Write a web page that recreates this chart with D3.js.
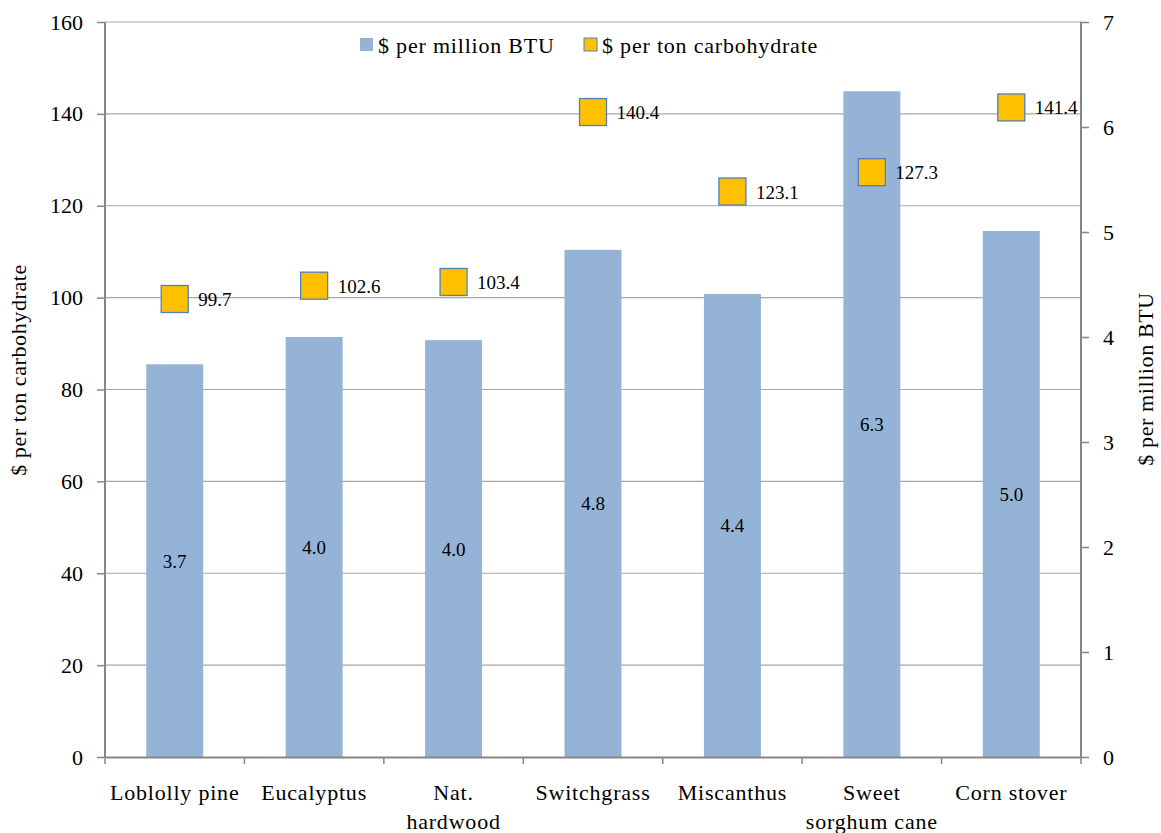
<!DOCTYPE html>
<html>
<head>
<meta charset="utf-8">
<script src="https://cdn.jsdelivr.net/npm/d3@7"></script>
<style>
  body { margin: 0; background: #fff; }
  svg text { font-family: "Liberation Serif", "Times New Roman", serif; fill: #000; }
</style>
</head>
<body>
<div id="main"></div>
<script>
var categories = [['Loblolly pine'], ['Eucalyptus'], ['Nat.', 'hardwood'], ['Switchgrass'], ['Miscanthus'], ['Sweet', 'sorghum cane'], ['Corn stover']];
var btu_values = [3.74, 4.0, 3.97, 4.83, 4.41, 6.34, 5.01];
var btu_labels = ['3.7', '4.0', '4.0', '4.8', '4.4', '6.3', '5.0'];
var carb_values = [99.7, 102.6, 103.4, 140.4, 123.1, 127.3, 141.4];
var left_ticks = [0, 20, 40, 60, 80, 100, 120, 140, 160];
var right_ticks = [0, 1, 2, 3, 4, 5, 6, 7];

var width = 1161, height = 833;
var plot_left = 105, plot_right = 1081, plot_top = 22, plot_bottom = 757;
var serif = '"Liberation Serif", "Times New Roman", serif';

var svg = d3.select('#main').append('svg')
  .attr('width', width).attr('height', height)
  .attr('font-family', serif);

var x = d3.scaleBand().domain(d3.range(categories.length)).range([plot_left, plot_right]).paddingInner(0).paddingOuter(0);
var yL = d3.scaleLinear().domain([0, 160]).range([plot_bottom, plot_top]);
var yR = d3.scaleLinear().domain([0, 7]).range([plot_bottom, plot_top]);

// gridlines
svg.append('g').selectAll('line')
  .data(left_ticks.slice(1))
  .enter().append('line')
  .attr('x1', plot_left).attr('x2', plot_right)
  .attr('y1', function (d) { return yL(d); })
  .attr('y2', function (d) { return yL(d); })
  .attr('stroke', '#a6a6a6').attr('stroke-width', 1.2);

// bars
var bw = 57;
svg.append('g').selectAll('rect')
  .data(btu_values)
  .enter().append('rect')
  .attr('x', function (d, i) { return x(i) + x.bandwidth() / 2 - bw / 2; })
  .attr('y', function (d) { return yR(d); })
  .attr('width', bw)
  .attr('height', function (d) { return plot_bottom - yR(d); })
  .attr('fill', '#95b3d7');

svg.append('g').selectAll('text')
  .data(btu_values)
  .enter().append('text')
  .attr('x', function (d, i) { return x(i) + x.bandwidth() / 2; })
  .attr('y', function (d) { return (yR(d) + plot_bottom) / 2 + 7; })
  .attr('text-anchor', 'middle')
  .style('font-size', '19px')
  .text(function (d, i) { return btu_labels[i]; });

// axes
var axL = d3.axisLeft(yL).tickValues(left_ticks).tickSize(8).tickPadding(14);
var gL = svg.append('g').attr('transform', 'translate(' + plot_left + ',0)').call(axL);
var axR = d3.axisRight(yR).tickValues(right_ticks).tickFormat(d3.format('d')).tickSize(8).tickPadding(14);
var gR = svg.append('g').attr('transform', 'translate(' + plot_right + ',0)').call(axR);
var axB = d3.axisBottom(x).tickSize(0).tickFormat('');
var gB = svg.append('g').attr('transform', 'translate(0,' + plot_bottom + ')').call(axB);

[gL, gR, gB].forEach(function (g) {
  g.attr('font-family', serif);
  g.select('.domain').attr('stroke', '#868686').attr('stroke-width', 2);
  g.selectAll('.tick line').attr('stroke', '#868686').attr('stroke-width', 1.5);
  g.selectAll('.tick text')
    .style('font-size', '22px')
    .style('font-family', serif)
    .attr('fill', '#000');
});
gL.select('.domain').attr('d', 'M0,' + plot_top + 'V' + plot_bottom);
gR.select('.domain').attr('d', 'M0,' + plot_top + 'V' + plot_bottom);

// category boundary ticks
svg.append('g').selectAll('line')
  .data(d3.range(categories.length + 1))
  .enter().append('line')
  .attr('x1', function (d) { return plot_left + d * x.bandwidth(); })
  .attr('x2', function (d) { return plot_left + d * x.bandwidth(); })
  .attr('y1', plot_bottom).attr('y2', plot_bottom + 7)
  .attr('stroke', '#868686').attr('stroke-width', 1.5);

// category labels
var cl = svg.append('g').selectAll('text')
  .data(categories)
  .enter().append('text')
  .attr('text-anchor', 'middle')
  .style('font-size', '22px')
  .style('letter-spacing', '0.8px')
  .attr('transform', function (d, i) { return 'translate(' + (x(i) + x.bandwidth() / 2) + ',800)'; });
cl.selectAll('tspan')
  .data(function (d) { return d; })
  .enter().append('tspan')
  .attr('x', 0)
  .attr('dy', function (d, j) { return j === 0 ? 0 : 29; })
  .text(function (d) { return d; });

// squares
var sq = 27;
svg.append('g').selectAll('rect')
  .data(carb_values)
  .enter().append('rect')
  .attr('x', function (d, i) { return x(i) + x.bandwidth() / 2 - sq / 2; })
  .attr('y', function (d) { return yL(d) - sq / 2; })
  .attr('width', sq).attr('height', sq)
  .attr('fill', '#ffc000')
  .attr('stroke', '#4f81bd').attr('stroke-width', 1.3);

svg.append('g').selectAll('text')
  .data(carb_values)
  .enter().append('text')
  .attr('x', function (d, i) { return x(i) + x.bandwidth() / 2 + sq / 2 + 10; })
  .attr('y', function (d) { return yL(d) + 7; })
  .style('font-size', '19px')
  .text(function (d) { return d.toFixed(1); });

// axis titles
svg.append('text')
  .attr('transform', 'translate(26,370) rotate(-90)')
  .attr('text-anchor', 'middle')
  .style('font-size', '22px')
  .style('letter-spacing', '0.6px')
  .text('$ per ton carbohydrate');
svg.append('text')
  .attr('transform', 'translate(1153,379) rotate(-90)')
  .attr('text-anchor', 'middle')
  .style('font-size', '22px')
  .style('letter-spacing', '0.6px')
  .text('$ per million BTU');

// legend
var legend = [
  { name: '$ per million BTU', fill: '#95b3d7', stroke: 'none', x: 360 },
  { name: '$ per ton carbohydrate', fill: '#ffc000', stroke: '#4f81bd', x: 584 }
];
var lg = svg.append('g').selectAll('g')
  .data(legend)
  .enter().append('g')
  .attr('transform', function (d) { return 'translate(' + d.x + ',38)'; });
lg.append('rect')
  .attr('width', 13).attr('height', 13)
  .attr('fill', function (d) { return d.fill; })
  .attr('stroke', function (d) { return d.stroke; });
lg.append('text')
  .attr('x', 18).attr('y', 15)
  .style('font-size', '22px')
  .style('letter-spacing', '0.8px')
  .text(function (d) { return d.name; });
</script>
</body>
</html>
